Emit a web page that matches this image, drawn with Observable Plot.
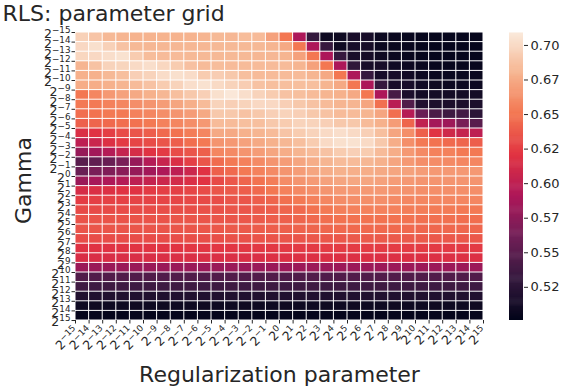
<!DOCTYPE html>
<html><head><meta charset="utf-8">
<script src="https://cdn.jsdelivr.net/npm/d3@7"></script>
<script src="https://cdn.jsdelivr.net/npm/@observablehq/plot@0.6"></script>
<style>
html,body{margin:0;padding:0;background:#fff;}
#wrap{position:relative;width:566px;height:392px;overflow:hidden;}
#wrap svg{position:absolute;top:0;}
</style></head><body>
<div id="wrap"></div>
<script>
// ---- data: accuracy per (gamma row, regularization column), top row = gamma 2^-15 ----
const r00 = [0.695,0.688,0.682,0.680,0.679,0.679,0.679,0.679,0.679,0.680,0.682,0.681,0.684,0.683,0.670,0.650,0.590,0.530,0.508,0.508,0.514,0.513,0.506,0.505,0.504,0.503,0.503,0.503,0.503,0.503];
const r01 = [0.699,0.703,0.695,0.687,0.682,0.681,0.681,0.681,0.681,0.681,0.682,0.682,0.682,0.682,0.680,0.674,0.650,0.590,0.531,0.508,0.513,0.512,0.506,0.505,0.504,0.503,0.503,0.503,0.503,0.503];
const r02 = [0.698,0.699,0.702,0.704,0.692,0.684,0.683,0.683,0.682,0.682,0.682,0.682,0.682,0.681,0.681,0.680,0.670,0.650,0.590,0.531,0.514,0.512,0.508,0.506,0.504,0.503,0.503,0.503,0.503,0.503];
const r03 = [0.680,0.687,0.696,0.697,0.700,0.702,0.698,0.692,0.686,0.683,0.684,0.683,0.683,0.683,0.683,0.683,0.680,0.670,0.650,0.590,0.527,0.513,0.513,0.509,0.507,0.505,0.504,0.504,0.504,0.504];
const r04 = [0.678,0.678,0.682,0.685,0.694,0.696,0.701,0.703,0.701,0.692,0.693,0.690,0.685,0.683,0.683,0.683,0.683,0.680,0.674,0.650,0.590,0.531,0.513,0.513,0.510,0.507,0.505,0.505,0.505,0.505];
const r05 = [0.676,0.676,0.678,0.680,0.683,0.687,0.692,0.696,0.702,0.704,0.700,0.696,0.693,0.687,0.685,0.685,0.685,0.685,0.680,0.674,0.650,0.590,0.531,0.513,0.513,0.509,0.508,0.507,0.507,0.507];
const r06 = [0.650,0.657,0.666,0.670,0.674,0.678,0.681,0.685,0.690,0.694,0.703,0.707,0.702,0.696,0.692,0.687,0.685,0.683,0.680,0.678,0.674,0.650,0.590,0.540,0.516,0.511,0.511,0.511,0.511,0.511];
const r07 = [0.651,0.651,0.655,0.657,0.661,0.664,0.668,0.672,0.677,0.683,0.696,0.694,0.696,0.699,0.699,0.694,0.690,0.687,0.683,0.680,0.680,0.672,0.647,0.597,0.545,0.519,0.516,0.516,0.516,0.516];
const r08 = [0.646,0.648,0.651,0.651,0.655,0.657,0.661,0.664,0.668,0.674,0.690,0.690,0.687,0.690,0.694,0.696,0.694,0.690,0.687,0.683,0.683,0.680,0.672,0.646,0.595,0.557,0.542,0.535,0.538,0.525];
const r09 = [0.640,0.642,0.644,0.646,0.648,0.651,0.655,0.657,0.661,0.666,0.683,0.683,0.685,0.685,0.690,0.692,0.696,0.696,0.694,0.690,0.690,0.683,0.678,0.668,0.642,0.601,0.586,0.583,0.565,0.549];
const r10 = [0.616,0.619,0.625,0.631,0.635,0.639,0.644,0.648,0.653,0.657,0.674,0.674,0.678,0.680,0.683,0.688,0.692,0.696,0.700,0.702,0.700,0.694,0.685,0.672,0.661,0.640,0.619,0.609,0.603,0.599];
const r11 = [0.599,0.606,0.617,0.623,0.628,0.631,0.635,0.639,0.646,0.651,0.664,0.666,0.670,0.674,0.678,0.681,0.685,0.692,0.700,0.703,0.704,0.700,0.690,0.676,0.661,0.651,0.648,0.644,0.642,0.639];
const r12 = [0.579,0.585,0.594,0.603,0.613,0.619,0.623,0.631,0.635,0.640,0.657,0.659,0.664,0.668,0.672,0.676,0.680,0.683,0.687,0.692,0.694,0.692,0.683,0.676,0.666,0.659,0.655,0.655,0.651,0.651];
const r13 = [0.549,0.553,0.557,0.565,0.579,0.594,0.605,0.616,0.625,0.635,0.645,0.651,0.655,0.659,0.664,0.668,0.672,0.676,0.680,0.683,0.683,0.681,0.678,0.672,0.666,0.661,0.660,0.659,0.657,0.657];
const r14 = [0.557,0.565,0.568,0.573,0.579,0.585,0.591,0.599,0.607,0.619,0.640,0.644,0.651,0.655,0.659,0.664,0.668,0.672,0.676,0.678,0.677,0.676,0.674,0.672,0.670,0.668,0.666,0.666,0.666,0.666];
const r15 = [0.581,0.587,0.591,0.594,0.599,0.603,0.607,0.611,0.616,0.620,0.630,0.636,0.642,0.648,0.653,0.660,0.664,0.667,0.670,0.672,0.673,0.672,0.670,0.668,0.666,0.664,0.664,0.664,0.664,0.664];
const r16 = [0.613,0.616,0.617,0.619,0.619,0.623,0.625,0.625,0.628,0.631,0.635,0.637,0.639,0.644,0.650,0.655,0.658,0.661,0.664,0.666,0.666,0.666,0.666,0.664,0.663,0.661,0.661,0.661,0.661,0.661];
const r17 = [0.624,0.625,0.626,0.626,0.627,0.627,0.628,0.628,0.629,0.630,0.631,0.635,0.635,0.639,0.642,0.647,0.651,0.655,0.657,0.660,0.661,0.661,0.661,0.659,0.657,0.657,0.657,0.657,0.657,0.657];
const r18 = [0.630,0.630,0.630,0.631,0.631,0.631,0.632,0.632,0.632,0.633,0.633,0.635,0.635,0.637,0.639,0.642,0.644,0.648,0.651,0.654,0.655,0.655,0.655,0.655,0.653,0.653,0.652,0.652,0.651,0.651];
const r19 = [0.634,0.634,0.634,0.634,0.634,0.634,0.634,0.635,0.635,0.635,0.635,0.635,0.636,0.637,0.639,0.640,0.642,0.644,0.646,0.648,0.648,0.648,0.648,0.648,0.648,0.647,0.647,0.647,0.646,0.646];
const r20 = [0.635,0.635,0.635,0.635,0.635,0.635,0.635,0.635,0.635,0.636,0.636,0.637,0.637,0.638,0.639,0.640,0.641,0.642,0.643,0.644,0.644,0.644,0.644,0.644,0.644,0.643,0.643,0.643,0.643,0.643];
const r21 = [0.631,0.631,0.631,0.631,0.631,0.631,0.631,0.631,0.632,0.632,0.632,0.633,0.633,0.634,0.634,0.635,0.635,0.636,0.636,0.636,0.637,0.637,0.637,0.637,0.637,0.637,0.636,0.636,0.636,0.636];
const r22 = [0.619,0.619,0.619,0.620,0.620,0.620,0.620,0.620,0.621,0.621,0.621,0.621,0.622,0.622,0.622,0.623,0.623,0.623,0.624,0.624,0.624,0.624,0.624,0.624,0.624,0.624,0.623,0.623,0.623,0.623];
const r23 = [0.615,0.615,0.615,0.615,0.615,0.615,0.616,0.616,0.616,0.616,0.616,0.616,0.616,0.616,0.617,0.617,0.617,0.617,0.617,0.617,0.617,0.617,0.617,0.617,0.617,0.617,0.617,0.617,0.617,0.617];
const r24 = [0.581,0.581,0.581,0.581,0.581,0.581,0.581,0.581,0.581,0.581,0.581,0.581,0.581,0.581,0.581,0.582,0.582,0.582,0.582,0.582,0.582,0.582,0.582,0.582,0.582,0.582,0.582,0.582,0.582,0.582];
const r25 = [0.545,0.545,0.545,0.545,0.545,0.545,0.545,0.545,0.545,0.545,0.545,0.545,0.545,0.545,0.545,0.545,0.545,0.545,0.545,0.545,0.545,0.545,0.545,0.545,0.545,0.545,0.545,0.545,0.545,0.545];
const r26 = [0.535,0.535,0.535,0.535,0.535,0.535,0.535,0.535,0.535,0.535,0.535,0.535,0.535,0.535,0.535,0.535,0.535,0.535,0.535,0.535,0.535,0.535,0.535,0.535,0.535,0.535,0.535,0.535,0.535,0.535];
const r27 = [0.518,0.518,0.518,0.518,0.518,0.518,0.518,0.518,0.518,0.518,0.518,0.518,0.518,0.518,0.518,0.518,0.518,0.518,0.518,0.518,0.518,0.518,0.518,0.518,0.518,0.518,0.518,0.518,0.518,0.518];
const r28 = [0.508,0.508,0.508,0.508,0.508,0.508,0.508,0.508,0.508,0.508,0.508,0.508,0.508,0.508,0.508,0.508,0.508,0.508,0.508,0.508,0.508,0.508,0.508,0.508,0.508,0.508,0.508,0.508,0.508,0.508];
const r29 = [0.503,0.503,0.503,0.503,0.503,0.503,0.503,0.503,0.503,0.503,0.503,0.503,0.503,0.503,0.503,0.503,0.503,0.503,0.503,0.503,0.503,0.503,0.503,0.503,0.503,0.503,0.503,0.503,0.503,0.503];

const lambdaLabels = ["2⁻¹⁵","2⁻¹⁴","2⁻¹³","2⁻¹²","2⁻¹¹","2⁻¹⁰","2⁻⁹","2⁻⁸","2⁻⁷","2⁻⁶","2⁻⁵","2⁻⁴","2⁻³","2⁻²","2⁻¹","2⁰","2¹","2²","2³","2⁴","2⁵","2⁶","2⁷","2⁸","2⁹","2¹⁰","2¹¹","2¹²","2¹³","2¹⁴","2¹⁵"];
const gammaLabels  = ["2⁻¹⁵","2⁻¹⁴","2⁻¹³","2⁻¹²","2⁻¹¹","2⁻¹⁰","2⁻⁹","2⁻⁸","2⁻⁷","2⁻⁶","2⁻⁵","2⁻⁴","2⁻³","2⁻²","2⁻¹","2⁰","2¹","2²","2³","2⁴","2⁵","2⁶","2⁷","2⁸","2⁹","2¹⁰","2¹¹","2¹²","2¹³","2¹⁴","2¹⁵"];
const cbTicks  = [0.525, 0.55, 0.575, 0.60, 0.625, 0.65, 0.675, 0.70];
const cbLabels = ["0.52", "0.55", "0.57", "0.60", "0.62", "0.65", "0.67", "0.70"];
const chartTitle = "RLS: parameter grid";
const xTitle = "Regularization parameter";
const yTitle = "Gamma";
const rocket = ["#03051a", "#35193e", "#701f57", "#ad1759", "#e13342", "#f37651", "#f6b48f", "#faebdd"];
const vDomain = [0.501, 0.709];

// ---- build ----
const grid = [r00,r01,r02,r03,r04,r05,r06,r07,r08,r09,r10,r11,r12,r13,r14,r15,r16,r17,r18,r19,r20,r21,r22,r23,r24,r25,r26,r27,r28,r29];
const cells = grid.flatMap((row, r) => row.map((v, c) => ({r, c, v})));
const tickPos = d3.range(lambdaLabels.length);
const colorOpts = {type: "linear", domain: vDomain, interpolate: d3.piecewise(d3.interpolateRgb, rocket)};
const font = "DejaVu Sans, sans-serif";
const ink = "#262626";

const main = Plot.plot({
  width: 566, height: 392,
  marginLeft: 75, marginRight: 83, marginTop: 32, marginBottom: 72,
  style: {fontFamily: font, fontSize: "12.5px", color: ink, background: "transparent", overflow: "visible"},
  x: {type: "linear", domain: [0, 30], ticks: tickPos, tickFormat: d => lambdaLabels[d], tickRotate: -45, tickSize: 3.5, tickPadding: 4, label: null},
  y: {type: "linear", domain: [0, 30], reverse: true, ticks: tickPos, tickFormat: d => gammaLabels[d], tickSize: 3.5, tickPadding: 1.5, label: null},
  color: colorOpts,
  marks: [
    Plot.rect(cells, {x1: "c", x2: d => d.c + 1, y1: "r", y2: d => d.r + 1, fill: "v", inset: 0.5}),
    Plot.text([chartTitle], {text: d => d, frameAnchor: "top-left", textAnchor: "start", lineAnchor: "middle", dx: -73, dy: -18.5, fontSize: 22, fontFamily: font, fill: ink}),
    Plot.text([xTitle], {text: d => d, frameAnchor: "bottom", textAnchor: "middle", lineAnchor: "middle", dy: 54, fontSize: 22, fontFamily: font, fill: ink}),
    Plot.text([yTitle], {text: d => d, frameAnchor: "left", textAnchor: "middle", lineAnchor: "middle", rotate: -90, dx: -52, dy: 4, fontSize: 22, fontFamily: font, fill: ink})
  ]
});
main.style.left = "0px";

// render power-of-two tick labels like math text: base "2" with a raised, smaller exponent
const supMap = {"⁻": "−", "⁰": "0", "¹": "1", "²": "2", "³": "3", "⁴": "4", "⁵": "5", "⁶": "6", "⁷": "7", "⁸": "8", "⁹": "9"};
const ns = "http://www.w3.org/2000/svg";
main.querySelectorAll("text").forEach(t => {
  const s = t.textContent;
  if (!/^2[⁻⁰¹²³⁴⁵⁶⁷⁸⁹]+$/.test(s)) return;
  const exp = Array.from(s.slice(1)).map(ch => supMap[ch]).join("");
  while (t.firstChild) t.removeChild(t.firstChild);
  const b = document.createElementNS(ns, "tspan");
  b.setAttribute("font-size", "12.5");
  b.setAttribute("dy", "1.8");
  b.textContent = "2";
  const e = document.createElementNS(ns, "tspan");
  e.setAttribute("font-size", "8.8");
  e.setAttribute("dy", "-5");
  e.textContent = exp;
  t.appendChild(b);
  t.appendChild(e);
});

const cbSteps = d3.range(0, 300).map(i => vDomain[0] + i * (vDomain[1] - vDomain[0]) / 300);
const cbStep = (vDomain[1] - vDomain[0]) / 300;
const bar = Plot.plot({
  width: 80, height: 392,
  marginLeft: 23, marginRight: 43, marginTop: 32.5, marginBottom: 72,
  style: {fontFamily: font, fontSize: "13px", color: ink, background: "transparent", overflow: "visible"},
  x: {domain: [0, 1], axis: null},
  y: {domain: vDomain, axis: "right", ticks: cbTicks, tickFormat: d => cbLabels[cbTicks.indexOf(d)], tickSize: 4, tickPadding: 3, label: null},
  color: colorOpts,
  marks: [
    Plot.rect(cbSteps, {x1: 0, x2: 1, y1: d => d, y2: d => Math.min(vDomain[1], d + cbStep * 1.6), fill: d => d})
  ]
});
bar.style.left = "486px";

const wrap = document.getElementById("wrap");
wrap.appendChild(main);
wrap.appendChild(bar);
</script>
</body></html>
